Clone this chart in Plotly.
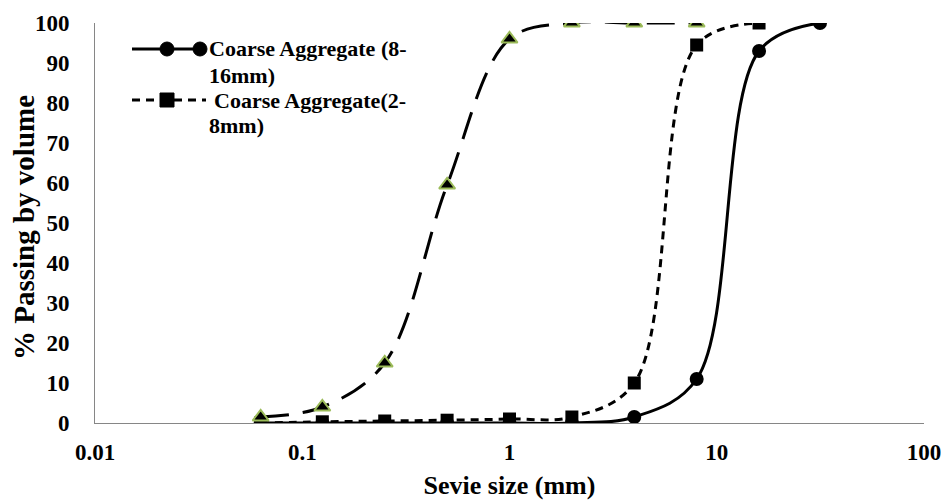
import plotly.graph_objects as go

sizes_a = [0.063, 0.125, 0.25, 0.5, 1, 2, 4, 8, 16, 31.5]
pass_a = [0, 0, 0, 0, 0, 0, 1.5, 11, 93, 100]

sizes_b = [0.063, 0.125, 0.25, 0.5, 1, 2, 4, 8, 16]
pass_b = [0, 0.3, 0.5, 0.7, 1, 1.5, 10, 94.5, 100]

sizes_c = [0.063, 0.125, 0.25, 0.5, 1, 2, 4, 8]
pass_c = [1.5, 4, 15, 59.5, 96, 100, 100, 100]

legend_lines_a = ["Coarse Aggregate (8-", "16mm)"]
legend_lines_b = ["Coarse Aggregate(2-", "8mm)"]
x_title = "Sevie size (mm)"
y_title = "% Passing by volume"

FONT = "Liberation Serif"
W, H = 944, 502
L, R, T, B = 95, 20, 23, 79
PW, PH = W - L - R, H - T - B


def px(x):
    return (x - L) / PW


def py(y):
    return (H - B - y) / PH


fig = go.Figure()
fig.add_trace(go.Scatter(
    x=sizes_a, y=pass_a, mode="lines+markers", showlegend=False,
    line=dict(color="black", width=3, shape="spline", smoothing=1),
    marker=dict(symbol="circle", size=14, color="black"),
))
fig.add_trace(go.Scatter(
    x=sizes_b, y=pass_b, mode="lines+markers", showlegend=False,
    line=dict(color="black", width=3, dash="8px,6px", shape="spline", smoothing=1),
    marker=dict(symbol="square", size=13, color="black"),
))
fig.add_trace(go.Scatter(
    x=sizes_c, y=pass_c, mode="lines+markers", showlegend=False,
    line=dict(color="black", width=3, dash="28px,14px", shape="spline", smoothing=1),
    marker=dict(symbol="triangle-up", size=14, color="black", line=dict(color="#9BBB59", width=2)),
))

shapes = []
annotations = []
Y1, Y1b, Y2, Y2b = 49, 75, 100, 126
# legend entry 1 (solid + circles)
shapes.append(dict(type="line", xref="paper", yref="paper", x0=px(132), x1=px(206), y0=py(Y1), y1=py(Y1),
                   line=dict(color="black", width=3)))
for cx in (167, 200):
    shapes.append(dict(type="circle", xref="paper", yref="paper", xsizemode="pixel", ysizemode="pixel",
                       xanchor=px(cx), yanchor=py(Y1), x0=-7, x1=7, y0=-7, y1=7,
                       fillcolor="black", line=dict(color="black", width=1)))
# legend entry 2 (dash + square)
shapes.append(dict(type="line", xref="paper", yref="paper", x0=px(132), x1=px(206), y0=py(Y2), y1=py(Y2),
                   line=dict(color="black", width=3, dash="8px,6px")))
shapes.append(dict(type="rect", xref="paper", yref="paper", xsizemode="pixel", ysizemode="pixel",
                   xanchor=px(167), yanchor=py(Y2), x0=-7, x1=7, y0=-7, y1=7,
                   fillcolor="black", line=dict(color="black", width=1)))

for txt, xx, yy in [(legend_lines_a[0], 207, Y1), (legend_lines_a[1], 207, Y1b),
                    (legend_lines_b[0], 212, Y2), (legend_lines_b[1], 207, Y2b)]:
    annotations.append(dict(text="<b>%s</b>" % txt, xref="paper", yref="paper", x=px(xx), y=py(yy),
                            xanchor="left", yanchor="middle", showarrow=False,
                            font=dict(family=FONT, size=22, color="black")))

# y-axis title as rotated annotation
annotations.append(dict(text="<b>%s</b>" % y_title, xref="paper", yref="paper", x=px(24), y=py(228),
                        xanchor="center", yanchor="middle", textangle=-90, showarrow=False,
                        font=dict(family=FONT, size=29, color="black")))

fig.update_layout(
    width=W, height=H,
    margin=dict(l=L, r=R, t=T, b=B, autoexpand=False),
    paper_bgcolor="white", plot_bgcolor="white",
    font=dict(family=FONT, size=23, color="black"),
    showlegend=False,
    shapes=shapes, annotations=annotations,
    xaxis=dict(
        type="log", range=[-2, 2], showgrid=False, zeroline=False, automargin=False,
        showline=True, linecolor="#868686", linewidth=1,
        tickvals=[0.01, 0.1, 1, 10, 100], ticktext=["0.01", "0.1", "1", "10", "100"],
        ticks="", ticklabelstandoff=8, ticklabeloverflow="allow",
        tickfont=dict(family=FONT, size=23, weight="bold"),
        title=dict(text="<b>%s</b>" % x_title, font=dict(family=FONT, size=26), standoff=12),
    ),
    yaxis=dict(
        range=[0, 100], dtick=10, showgrid=False, zeroline=False, automargin=False,
        showline=True, linecolor="#868686", linewidth=1,
        ticks="", ticklabelstandoff=20, tickfont=dict(family=FONT, size=23, weight="bold"),
    ),
)

fig.write_html("out.html")
